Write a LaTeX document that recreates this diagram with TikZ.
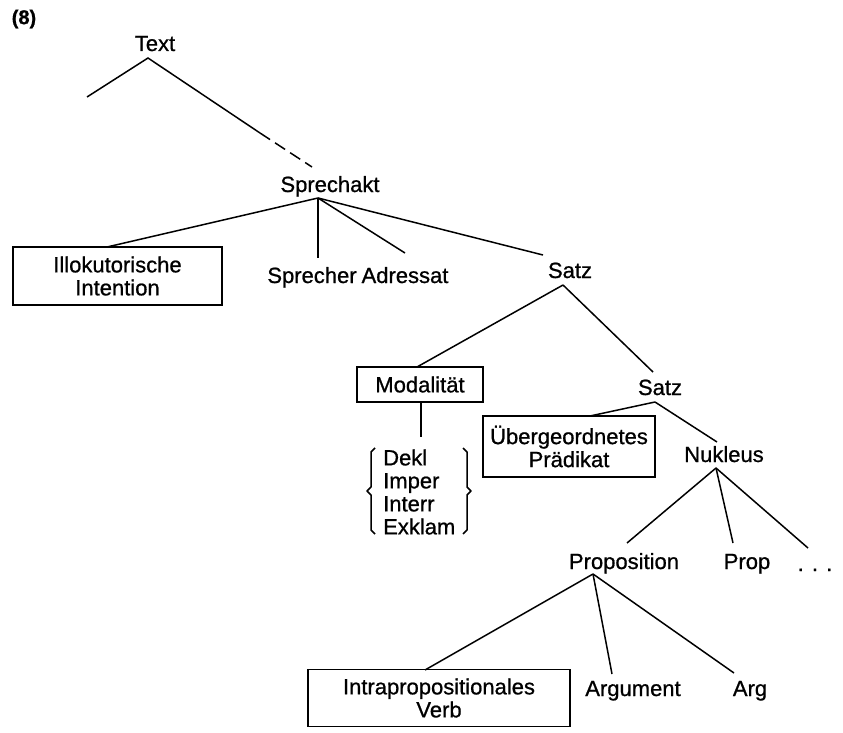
\documentclass[tikz,border=0pt]{standalone}
\usepackage{fontspec}
\setmainfont[FakeBold=0.8]{Liberation Sans}
\begin{document}
\begin{tikzpicture}[x=1pt,y=-1pt,
  lbl/.style={inner sep=0pt, font=\fontsize{22}{23}\selectfont, text height=16pt, text depth=0pt},
  box/.style={draw, line width=1.8pt, inner sep=0pt, align=center, font=\fontsize{22}{23}\selectfont},
  edge/.style={line width=1.5pt},
  brace/.style={line width=1.5pt, line join=round}]
\useasboundingbox (0,0) rectangle (843,733);
\fill[white] (0,0) rectangle (843,733);

% label
\node[inner sep=0pt, font=\fontsize{20}{22}\selectfont\bfseries] (num) at (24,19) {(8)};

% text nodes
\node[lbl] (text) at (155,43) {Text};
\node[lbl] (sprechakt) at (330,184) {Sprechakt};
\node[lbl] (sprecher) at (312,275) {Sprecher};
\node[lbl] (adressat) at (405,275) {Adressat};
\node[lbl] (satz1) at (570,270) {Satz};
\node[lbl] (satz2) at (660,387) {Satz};
\node[lbl] (nukleus) at (724,454) {Nukleus};
\node[lbl] (proposition) at (624,561) {Proposition};
\node[lbl] (prop) at (747,561) {Prop};
\node[lbl] (dots) at (815,563) {. . .};
\node[lbl] (argument) at (633,688) {Argument};
\node[lbl] (arg) at (750,688) {Arg};

% boxes
\node[box, minimum width=209pt, minimum height=58pt] (illok) at (117.5,276) {Illokutorische\\Intention};
\node[box, minimum width=126pt, minimum height=35pt] (modal) at (420,384.5) {Modalität};
\node[box, minimum width=172pt, minimum height=61pt] (ueber) at (569,446.5) {Übergeordnetes\\Prädikat};
\node[box, minimum width=262pt, minimum height=57pt] (intra) at (439,698) {Intrapropositionales\\Verb};

% list in braces
\node[inner sep=0pt, align=left, anchor=west, font=\fontsize{22}{23}\selectfont] (modlist) at (383,492) {Dekl\\Imper\\Interr\\Exklam};
\draw[brace] (375,448) -- (371,452) -- (371,487) -- (367,491) -- (371,495) -- (371,530) -- (375,534);
\draw[brace] (463,448) -- (467,452) -- (467,487) -- (471,491) -- (467,495) -- (467,530) -- (463,534);

% apex / end coordinates
\coordinate (text-a) at (148,58);
\coordinate (text-l) at (87,97);
\coordinate (text-m) at (260,133);
\coordinate (text-r) at (312,167);
\coordinate (spa-a) at (318,198);
\coordinate (illok-t) at (107,247);
\coordinate (sprecher-t) at (318,258);
\coordinate (adressat-t) at (405,253);
\coordinate (satz1-t) at (543,255);
\coordinate (satz1-a) at (563,285);
\coordinate (modal-t) at (417,367);
\coordinate (satz2-t) at (653,372);
\coordinate (satz2-a) at (655,402);
\coordinate (ueber-t) at (590,416);
\coordinate (nuk-t) at (717,442);
\coordinate (nuk-a) at (716,468);
\coordinate (prop1-t) at (627,543);
\coordinate (prop2-t) at (733,543);
\coordinate (dots-t) at (808,548);
\coordinate (propo-a) at (593,574);
\coordinate (intra-t) at (425,670);
\coordinate (argument-t) at (612,674);
\coordinate (arg-t) at (734,673);
\coordinate (modal-b) at (421,402);
\coordinate (modlist-t) at (421,437);

% connectors
\draw[edge] (text-l) -- (text-a) -- (text-m);
\draw[edge, dash pattern=on 12pt off 6pt] (text-m) -- (text-r);
\draw[edge] (spa-a) -- (illok-t);
\draw[edge] (spa-a) -- (sprecher-t);
\draw[edge] (spa-a) -- (adressat-t);
\draw[edge] (spa-a) -- (satz1-t);
\draw[edge] (satz1-a) -- (modal-t);
\draw[edge] (satz1-a) -- (satz2-t);
\draw[edge] (modal-b) -- (modlist-t);
\draw[edge] (satz2-a) -- (ueber-t);
\draw[edge] (satz2-a) -- (nuk-t);
\draw[edge] (nuk-a) -- (prop1-t);
\draw[edge] (nuk-a) -- (prop2-t);
\draw[edge] (nuk-a) -- (dots-t);
\draw[edge] (propo-a) -- (intra-t);
\draw[edge] (propo-a) -- (argument-t);
\draw[edge] (propo-a) -- (arg-t);
\end{tikzpicture}
\end{document}
